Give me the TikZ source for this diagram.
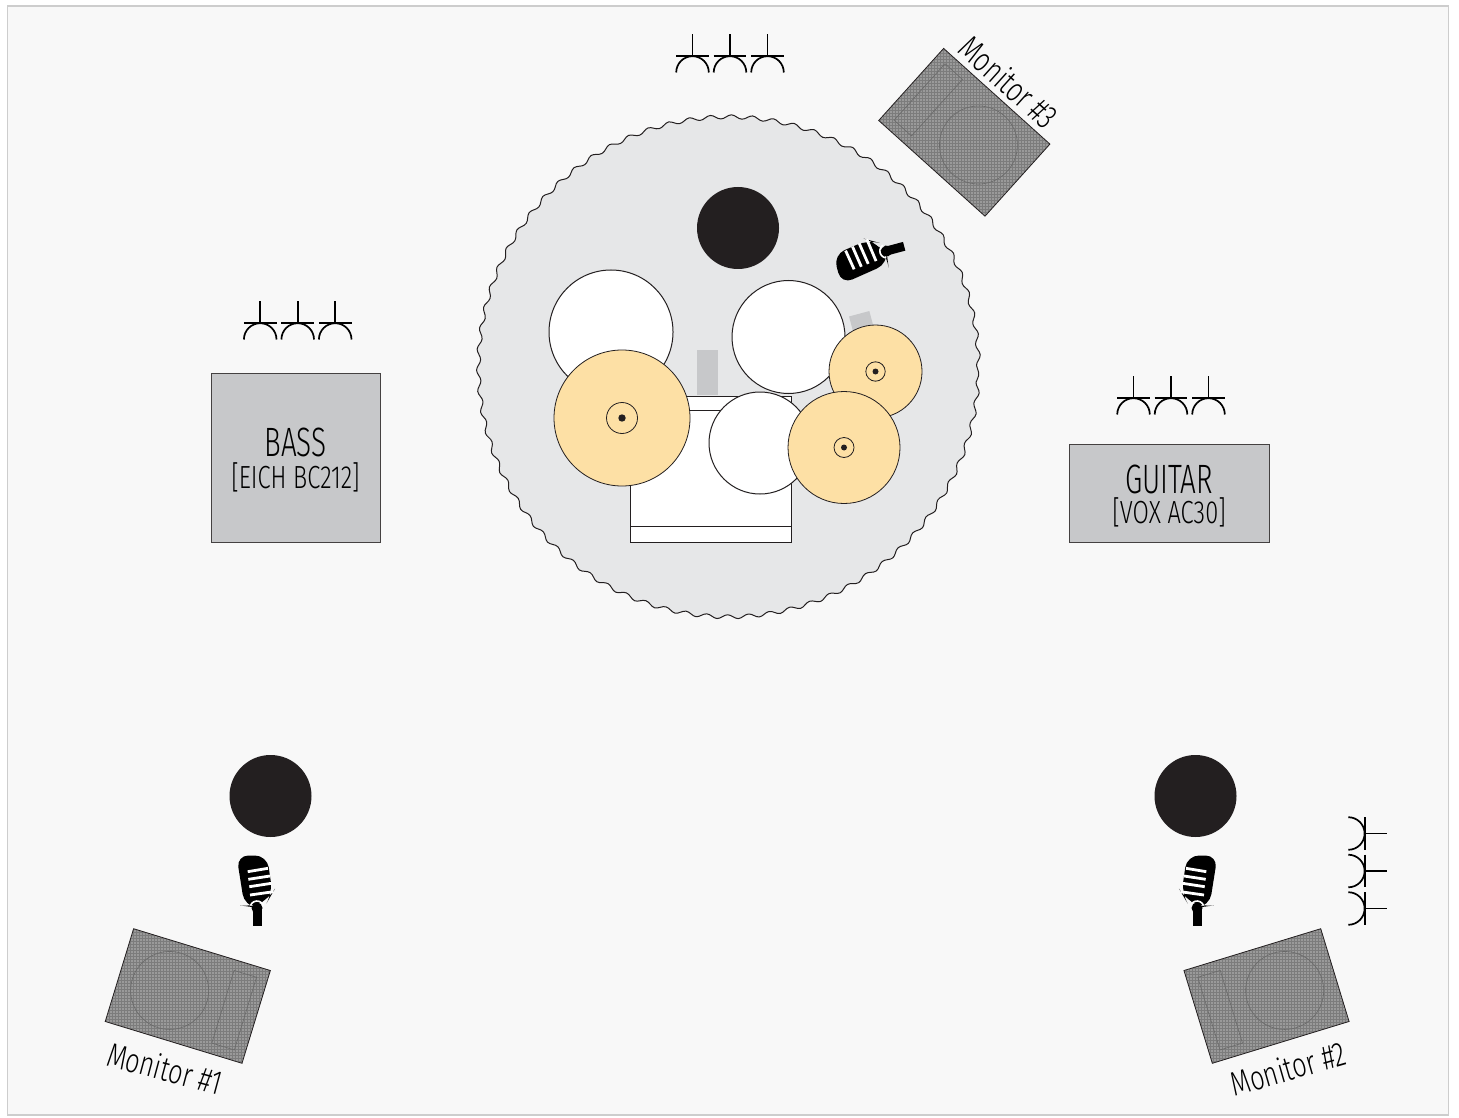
\documentclass[tikz,border=0pt]{standalone}
\usepackage{fontspec}
\usetikzlibrary{patterns,decorations.pathmorphing}
\newfontfamily\labelfont[FakeStretch=0.68]{Fira Sans Light}
\newfontfamily\smallfont[FakeStretch=0.74]{Fira Sans Light}
\definecolor{paper}{HTML}{F8F8F8}
\definecolor{frameline}{HTML}{CDCDCD}
\definecolor{riser}{HTML}{E6E7E8}
\definecolor{ampgray}{HTML}{C7C8CA}
\definecolor{inkblack}{HTML}{231F20}
\definecolor{brass}{HTML}{FDE0A5}
\definecolor{wedgegray}{HTML}{7C7C7C}
\pgfdeclarepatternformonly{wedgedots}{\pgfqpoint{-.35pt}{-.35pt}}{\pgfqpoint{.35pt}{.35pt}}{\pgfqpoint{1.5pt}{1.5pt}}{%
  \pgfpathcircle{\pgfpointorigin}{.35pt}\pgfusepath{fill}}

\begin{document}
\begin{tikzpicture}[
  x=0.5pt, y=-0.5pt,
  every node/.style={font=\labelfont, text=black},
  frame/.style={rectangle, draw=frameline, fill=paper, line width=0.9pt, inner sep=0pt,
                minimum width=720.5pt, minimum height=554.5pt},
  stage/.style={circle, draw=inkblack, fill=riser, line width=0.5pt, inner sep=0pt,
                minimum size=250pt, decorate,
                decoration={snake, segment length=10.5pt, amplitude=1pt}},
  amp/.style={rectangle, draw=inkblack!85, fill=ampgray, line width=0.5pt, align=center, inner sep=0pt},
  seat/.style={circle, fill=inkblack, inner sep=0pt, minimum size=41pt},
  stand/.style={rectangle, fill=ampgray, inner sep=0pt, minimum width=10.5pt, minimum height=22.5pt},
  kitbox/.style={rectangle, draw=inkblack, fill=white, line width=0.5pt, inner sep=0pt, minimum width=80.5pt},
  drum/.style={circle, draw=inkblack, fill=white, line width=0.5pt, inner sep=0pt, minimum size=#1pt},
  cymbal/.style={circle, draw=inkblack, fill=brass, line width=0.4pt, inner sep=0pt, minimum size=#1pt},
  bell/.style={circle, draw=inkblack, line width=0.4pt, inner sep=0pt, minimum size=#1pt},
  hub/.style={circle, fill=inkblack, inner sep=0pt, minimum size=#1pt},
  wedge/.style={draw=inkblack, line width=0.4pt, preaction={fill=wedgegray},
                pattern=wedgedots, pattern color=white},
  wedgeline/.style={draw=wedgegray!85!black, line width=0.3pt},
  biglabel/.style={font=\labelfont\fontsize{20.5}{22}\selectfont},
  sublabel/.style={font=\smallfont\fontsize{16}{17}\selectfont},
  wedgelabel/.style={font=\smallfont\fontsize{17}{18}\selectfont, inner sep=0pt},
  outlet/.style={draw=black, line width=0.85pt},
  monitor/.pic={
    \path[wedge] (-71.5,-48.5) rectangle (71.5,48.5);
    \draw[wedgeline] (36.75,-38) rectangle (60.25,38);
    \draw[wedgeline] (-19,0) circle[radius=39];
  },
  outlets/.pic={
    \foreach \dx in {-37.5,0,37.5} {
      \draw[outlet] (\dx-16.3,0) arc[start angle=180, end angle=360, radius=16.3];
      \draw[outlet] (\dx-16.3,-16.8) -- (\dx+16.3,-16.8);
      \draw[outlet] (\dx,-16.8) -- (\dx,-38.5);
    }
  },
  mike/.pic={
    \fill[black, rounded corners=6pt] (-20.5,-34.5) -- (10,-34.5) -- (15.5,3) -- (12,9)
      -- (-5,17) -- (-12.5,16) -- cycle;
    \draw[white, line width=0.8pt] (-6.58,15.6) arc[start angle=200, end angle=340, radius=7];
    \foreach \ya/\yb/\xa/\xb in {-18.3/-21.7/-9.3/11, -10.7/-14/-8.7/13, -3.3/-6.7/-7.7/14.5, 5/1.7/-7/16.5}
      \draw[white, line width=1.4pt] (\xa,\ya) -- (\xb,\yb);
    \fill[black] (0,18) circle[radius=5.5];
    \fill[black] (-4.5,18) rectangle (4.5,36);
  },
]
\useasboundingbox (0,0) rectangle (1459,1117);
\fill[white] (0,0) rectangle (1459,1117);

%% Paper and riser
\node[frame] (paper) at (728,560.5) {};
\node[stage] (riser) at (728.5,372) {};

%% Amps
\node[amp, minimum width=84.5pt, minimum height=84.5pt] (bass) at (295.5,457.5) {};
\node[biglabel] (basstitle) at (295.5,442) {BASS};
\node[sublabel] (basstype) at (295.5,477) {[EICH BC212]};
\node[amp, minimum width=100pt, minimum height=49pt] (guitar) at (1169,493.5) {};
\node[biglabel] (guitartitle) at (1169,479) {GUITAR};
\node[sublabel] (guitartype) at (1169,512) {[VOX AC30]};

%% Seats
\node[seat] (drummer) at (738,228) {};
\node[seat] (singerl) at (270.5,796) {};
\node[seat] (singerr) at (1195.5,796) {};

%% Drum kit
\node[stand] (standa) at (707.5,372.5) {};
\node[stand, rotate=15] (standb) at (865,335.5) {};
\node[kitbox, minimum height=73pt] (kick) at (711,469) {};
\node[kitbox, minimum height=7pt, anchor=north] (kicktop) at (kick.north) {};
\node[kitbox, minimum height=8pt, anchor=south] (kickfront) at (kick.south) {};
\node[drum=62] (tomfloor) at (611,332) {};
\node[drum=56.5] (tomhigh) at (788.5,337) {};
\node[drum=51] (snare) at (760,443) {};

%% Cymbals
\node[cymbal=68] (ride) at (622,418) {};
\node[bell=15.5] (ridebell) at (ride.center) {};
\node[hub=3.7] (ridehub) at (ride.center) {};
\node[cymbal=46.5] (hihat) at (875.5,371.5) {};
\node[bell=9.7] (hihatbell) at (hihat.center) {};
\node[hub=3] (hihathub) at (hihat.center) {};
\node[cymbal=56] (crash) at (844,447.5) {};
\node[bell=10] (crashbell) at (crash.center) {};
\node[hub=3] (crashhub) at (crash.center) {};

%% Microphones
\pic[rotate=105] at (869.4,255.6) {mike};
\pic at (257,890) {mike};
\pic[xscale=-1] at (1197,890) {mike};

%% Monitors
\pic[rotate=-17] at (187.8,996) {monitor};
\pic[rotate=197] at (1266.5,996) {monitor};
\pic[rotate=138] at (964.3,132.3) {monitor};
\node[wedgelabel, rotate=-15] (monone) at (165,1068) {Monitor \#1};
\node[wedgelabel, rotate=16] (montwo) at (1288,1068) {Monitor \#2};
\node[wedgelabel, rotate=-42] (monthree) at (1009,82) {Monitor \#3};

%% Power outlets
\pic at (730,72.5) {outlets};
\pic at (297.7,339.5) {outlets};
\pic at (1171,414.5) {outlets};
\pic[rotate=-90] at (1348.3,871) {outlets};
\end{tikzpicture}
\end{document}
